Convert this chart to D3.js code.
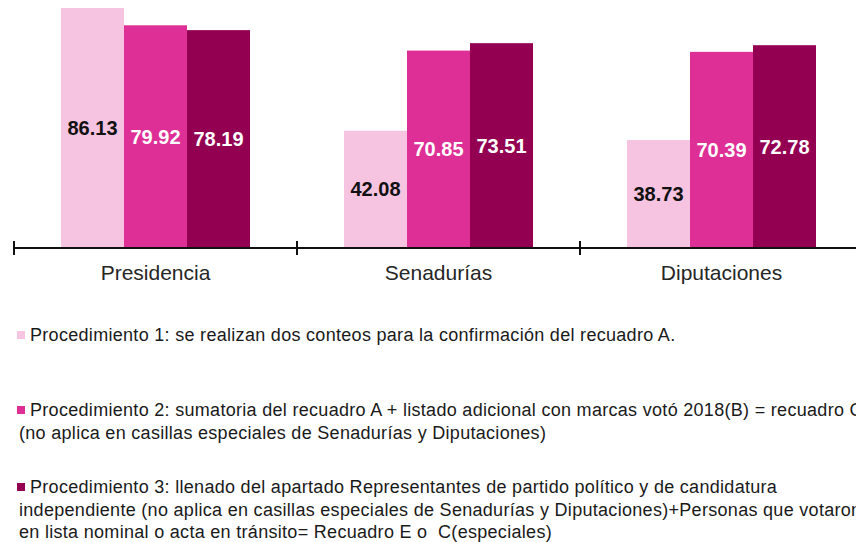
<!DOCTYPE html>
<html>
<head>
<meta charset="utf-8">
<script src="https://cdn.jsdelivr.net/npm/d3@7"></script>
<style>
  body { margin: 0; background: #fff; overflow: hidden; }
  text { font-family: "Liberation Sans", Arial, sans-serif; }
</style>
</head>
<body>
<script>
const categories = ["Presidencia", "Senadurías", "Diputaciones"];
const seriesNames = ["Procedimiento 1", "Procedimiento 2", "Procedimiento 3"];
const proc1 = [86.13, 42.08, 38.73];
const proc2 = [79.92, 70.85, 70.39];
const proc3 = [78.19, 73.51, 72.78];
const colors = ["#f6c3e0", "#de2f96", "#930052"];
const labelColors = ["#111", "#fff", "#fff"];
const legendLines = [
  ["Procedimiento 1: se realizan dos conteos para la confirmación del recuadro A."],
  ["Procedimiento 2: sumatoria del recuadro A + listado adicional con marcas votó 2018(B) = recuadro C",
   "(no aplica en casillas especiales de Senadurías y Diputaciones)"],
  ["Procedimiento 3: llenado del apartado Representantes de partido político y de candidatura",
   "independiente (no aplica en casillas especiales de Senadurías y Diputaciones)+Personas que votaron",
   "en lista nominal o acta en tránsito= Recuadro E o  C(especiales)"]
];

const width = 856, height = 542;
const allSeries = [proc1, proc2, proc3];

const svg = d3.select("body").append("svg")
  .attr("width", width)
  .attr("height", height);

// scales
const x = d3.scaleBand().domain(categories).range([14, 14 + 283 * 3]);
const xInner = d3.scaleBand().domain(d3.range(3)).range([0, x.bandwidth()]).paddingOuter(0.746);
const y = d3.scaleLinear().domain([0, 89]).range([248, 0]);

// bars
const groups = svg.selectAll("g.cat")
  .data(categories)
  .enter()
  .append("g")
  .attr("class", "cat")
  .attr("transform", d => `translate(${x(d)},0)`);

groups.each(function (cat, ci) {
  const g = d3.select(this);
  const vals = allSeries.map(s => s[ci]);
  g.selectAll("rect")
    .data(vals)
    .enter()
    .append("rect")
    .attr("x", (d, i) => xInner(i))
    .attr("width", xInner.bandwidth())
    .attr("y", d => y(d))
    .attr("height", d => y(0) - y(d))
    .attr("fill", (d, i) => colors[i]);
  g.selectAll("text.val")
    .data(vals)
    .enter()
    .append("text")
    .attr("class", "val")
    .attr("x", (d, i) => xInner(i) + xInner.bandwidth() / 2)
    .attr("y", d => (y(d) + y(0)) / 2 + 7)
    .attr("text-anchor", "middle")
    .style("font-size", "20px")
    .style("font-weight", "bold")
    .attr("fill", (d, i) => labelColors[i])
    .text(d => d.toFixed(2));
});

// axis line with ticks at the band edges
const axisY = y(0);
svg.append("line")
  .attr("x1", x.range()[0]).attr("x2", x.range()[1])
  .attr("y1", axisY).attr("y2", axisY)
  .attr("stroke", "#111").attr("stroke-width", 2);
const edges = categories.map(c => x(c)).concat([x.range()[1]]);
svg.selectAll("line.tick")
  .data(edges)
  .enter()
  .append("line")
  .attr("class", "tick")
  .attr("x1", d => d).attr("x2", d => d)
  .attr("y1", axisY - 7).attr("y2", axisY + 7)
  .attr("stroke", "#111").attr("stroke-width", 2);

svg.selectAll("text.cat")
  .data(categories)
  .enter()
  .append("text")
  .attr("class", "cat")
  .attr("x", d => x(d) + x.bandwidth() / 2)
  .attr("y", 280)
  .attr("text-anchor", "middle")
  .style("font-size", "21px")
  .attr("fill", "#262626")
  .text(d => d);

// legend
const legendTop = [341, 416, 493];
const legend = svg.selectAll("g.leg")
  .data(legendLines)
  .enter()
  .append("g")
  .attr("class", "leg");
legend.append("rect")
  .attr("x", 17)
  .attr("y", (d, i) => legendTop[i] - 10)
  .attr("width", 8).attr("height", 8)
  .attr("fill", (d, i) => colors[i]);
legend.each(function (lines, i) {
  d3.select(this).selectAll("text")
    .data(lines)
    .enter()
    .append("text")
    .attr("x", (d, j) => j === 0 ? 30 : 19)
    .attr("y", (d, j) => legendTop[i] + j * 22.5)
    .style("font-size", "18px")
    .style("letter-spacing", "0.3px")
    .style("white-space", "pre")
    .attr("fill", "#1a1a1a")
    .text(d => d);
});
</script>
</body>
</html>
